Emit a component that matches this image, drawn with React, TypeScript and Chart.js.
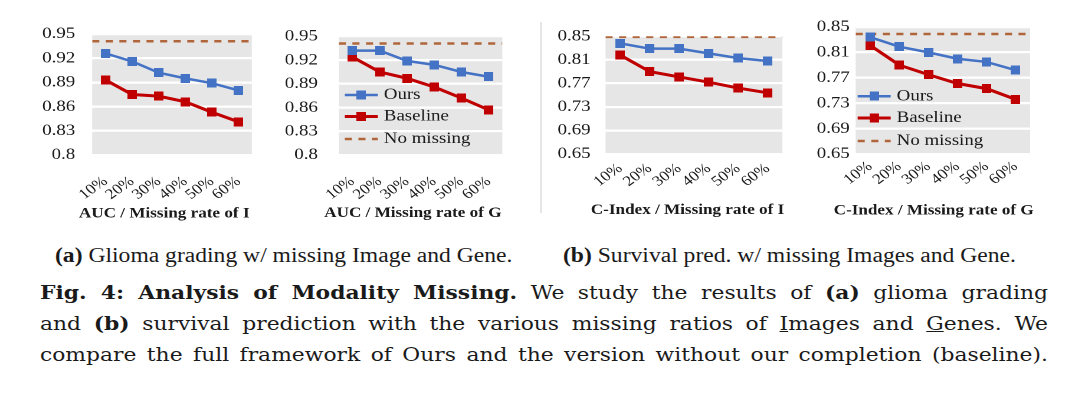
import React, { useEffect, useRef } from 'react';
import { Chart, registerables } from 'chart.js';

Chart.register(...registerables);

// ---------- data ----------
const categories = ['10%', '20%', '30%', '40%', '50%', '60%'];
const legendLabels = ['Ours', 'Baseline', 'No missing'];

const aucTicks = [0.8, 0.83, 0.86, 0.89, 0.92, 0.95];
const aucTickLabels = ['0.8', '0.83', '0.86', '0.89', '0.92', '0.95'];
const cTicks = [0.65, 0.69, 0.73, 0.77, 0.81, 0.85];
const cTickLabels = ['0.65', '0.69', '0.73', '0.77', '0.81', '0.85'];

const oursAucI = [0.926, 0.916, 0.902, 0.895, 0.889, 0.88];
const baseAucI = [0.893, 0.875, 0.873, 0.866, 0.853, 0.841];
const noMissAucI = 0.941;

const oursAucG = [0.932, 0.932, 0.919, 0.914, 0.905, 0.899];
const baseAucG = [0.924, 0.905, 0.897, 0.886, 0.872, 0.857];
const noMissAucG = 0.941;

const oursCI = [0.838, 0.829, 0.829, 0.821, 0.813, 0.808];
const baseCI = [0.818, 0.79, 0.781, 0.772, 0.762, 0.754];
const noMissCI = 0.849;

const oursCG = [0.834, 0.819, 0.81, 0.8, 0.795, 0.782];
const baseCG = [0.821, 0.79, 0.775, 0.761, 0.753, 0.736];
const noMissCG = 0.839;

// ---------- style / layout ----------
const S = 1.18; // horizontal stretch of the whole figure
const FONT = '"Liberation Serif", "Times New Roman", serif';
const CAP_FONT = '"DejaVu Serif", serif';
const BLUE = '#4472C4';
const RED = '#C00000';
const BROWN = '#B0663A';
const PLOT_BG = '#E6E6E6';
const TEXT = '#1a1a1a';

type Panel = {
  ours: number[];
  base: number[];
  noMiss: number;
  ticks: number[];
  tickLabels: string[];
  title: string;
  plotL: number; plotR: number; plotT: number; plotB: number;
  gap: number; xPad: number; titleX: number; titleY: number;
  legend?: { x: number; textX: number; rows: number[] };
};

const panels: Panel[] = [
  { ours: oursAucI, base: baseAucI, noMiss: noMissAucI, ticks: aucTicks, tickLabels: aucTickLabels,
    title: 'AUC / Missing rate of I',
    plotL: 92, plotR: 268, plotT: 26.3, plotB: 156, gap: 17, xPad: 18, titleX: 164, titleY: 214 },
  { ours: oursAucG, base: baseAucG, noMiss: noMissAucG, ticks: aucTicks, tickLabels: aucTickLabels,
    title: 'AUC / Missing rate of G',
    plotL: 339, plotR: 519, plotT: 25, plotB: 155, gap: 21, xPad: 18, titleX: 413, titleY: 213,
    legend: { x: 345, textX: 384, rows: [95, 116.5, 139] } },
  { ours: oursCI, base: baseCI, noMiss: noMissCI, ticks: cTicks, tickLabels: cTickLabels,
    title: 'C-Index / Missing rate of I',
    plotL: 605, plotR: 786, plotT: 30, plotB: 154.5, gap: 15, xPad: 6, titleX: 687, titleY: 210 },
  { ours: oursCG, base: baseCG, noMiss: noMissCG, ticks: cTicks, tickLabels: cTickLabels,
    title: 'C-Index / Missing rate of G',
    plotL: 856, plotR: 1034, plotT: 26.5, plotB: 154, gap: 6, xPad: 4, titleX: 934, titleY: 210,
    legend: { x: 858, textX: 897, rows: [95.7, 117.5, 140.5] } },
];

function makeMarker(color: string): HTMLCanvasElement {
  const c = document.createElement('canvas');
  c.width = 8;
  c.height = 9;
  const g = c.getContext('2d')!;
  g.fillStyle = color;
  g.fillRect(0, 0, 8, 9);
  return c;
}

const Y_W = 58;   // final px reserved left of plot
const R_PAD = 6;  // final px right of plot
const T_PAD = 16; // px above plot
const X_H = 74;   // px below plot

function PanelChart({ p }: { p: Panel }) {
  const ref = useRef<HTMLCanvasElement>(null);
  const left0 = p.plotL - Y_W;
  const right0 = p.plotR + R_PAD;
  const top0 = p.plotT - T_PAD;
  const bottom0 = p.plotB + X_H;
  const cw = (right0 - left0) / S;
  const ch = bottom0 - top0;

  useEffect(() => {
    const blueMk = makeMarker(BLUE);
    const redMk = makeMarker(RED);

    const bgPlugin = {
      id: 'plotBg',
      beforeDraw(chart: any) {
        const { ctx, chartArea: a } = chart;
        ctx.save();
        ctx.fillStyle = PLOT_BG;
        ctx.fillRect(a.left, a.top, a.right - a.left, a.bottom - a.top);
        ctx.restore();
      },
    };

    const titlePlugin = {
      id: 'axisTitle',
      afterDraw(chart: any) {
        const { ctx } = chart;
        ctx.save();
        ctx.font = `bold 14.5px ${FONT}`;
        ctx.fillStyle = TEXT;
        ctx.textAlign = 'center';
        ctx.textBaseline = 'middle';
        ctx.fillText(p.title, (p.titleX - left0) / S, p.titleY - top0);
        ctx.restore();
      },
    };

    const legendPlugin = {
      id: 'innerLegend',
      afterDraw(chart: any) {
        if (!p.legend) return;
        const { ctx } = chart;
        const lg = p.legend;
        const x1 = (lg.x - left0) / S;
        const len = 33 / S;
        const tx = (lg.textX - left0) / S;
        chart.data.datasets.forEach((ds: any, i: number) => {
          const y = lg.rows[i] - top0;
          ctx.save();
          ctx.strokeStyle = ds.borderColor;
          ctx.lineWidth = ds.borderWidth;
          if (ds.borderDash) ctx.setLineDash(ds.borderDash);
          ctx.beginPath();
          ctx.moveTo(x1, y);
          ctx.lineTo(x1 + len, y);
          ctx.stroke();
          if (ds.pointStyle && typeof ds.pointStyle === 'object') {
            const m = ds.pointStyle;
            ctx.drawImage(m, x1 + len / 2 - m.width / 2, y - m.height / 2, m.width, m.height);
          }
          ctx.fillStyle = TEXT;
          ctx.font = `16px ${FONT}`;
          ctx.textAlign = 'left';
          ctx.textBaseline = 'middle';
          ctx.fillText(ds.label, tx, y);
          ctx.restore();
        });
      },
    };

    const chart = new Chart(ref.current!, {
      type: 'line',
      data: {
        labels: categories,
        datasets: [
          { label: legendLabels[0], data: p.ours, borderColor: BLUE, backgroundColor: BLUE,
            borderWidth: 2.5, pointStyle: blueMk as any, pointRadius: 5, xAxisID: 'x', yAxisID: 'y' },
          { label: legendLabels[1], data: p.base, borderColor: RED, backgroundColor: RED,
            borderWidth: 3, pointStyle: redMk as any, pointRadius: 5, xAxisID: 'x', yAxisID: 'y' },
          { label: legendLabels[2], data: [{ x: 0, y: p.noMiss }, { x: 1, y: p.noMiss }] as any,
            borderColor: BROWN, backgroundColor: BROWN, borderWidth: 2.5, borderDash: [6, 5.5],
            pointRadius: 0, xAxisID: 'x2', yAxisID: 'y' },
        ],
      },
      options: {
        responsive: false,
        animation: false,
        devicePixelRatio: 2,
        events: [],
        layout: { padding: { top: T_PAD, right: R_PAD / S, left: 0, bottom: 0 } },
        plugins: { legend: { display: false }, tooltip: { enabled: false }, title: { display: false } },
        scales: {
          x: {
            type: 'category',
            offset: true,
            grid: { display: false, drawTicks: false },
            border: { display: false },
            ticks: { autoSkip: false, minRotation: 40, maxRotation: 40, padding: p.xPad,
              color: TEXT, font: { family: FONT, size: 14.5 } },
            afterFit: (s: any) => { s.height = X_H; },
          },
          x2: { type: 'linear', display: false, min: 0, max: 1 },
          y: {
            type: 'linear',
            min: p.ticks[0],
            max: p.ticks[p.ticks.length - 1],
            grid: { color: '#ffffff', lineWidth: 2.3, drawTicks: false },
            border: { display: false },
            ticks: {
              padding: p.gap / S,
              color: TEXT,
              font: { family: FONT, size: 16 },
              callback: (_v: any, i: number) => p.tickLabels[i],
            },
            afterBuildTicks: (s: any) => { s.ticks = p.ticks.map((v) => ({ value: v })); },
            afterFit: (s: any) => { s.width = Y_W / S; },
          },
        } as any,
      },
      plugins: [bgPlugin, titlePlugin, legendPlugin],
    } as any);
    return () => chart.destroy();
  }, []);

  return (
    <canvas
      ref={ref}
      width={cw}
      height={ch}
      style={{ position: 'absolute', left: left0 / S, top: top0 }}
    />
  );
}

const lineStyle: React.CSSProperties = { textAlign: 'justify', textAlignLast: 'justify', whiteSpace: 'nowrap' };

export default function App() {
  return (
    <div
      style={{
        position: 'absolute', left: 0, top: 0, width: 1080 / S, height: 396,
        transform: `scaleX(${S})`, transformOrigin: '0 0', background: '#fff',
        fontFamily: FONT, color: TEXT, overflow: 'hidden',
      }}
    >
      {panels.map((p, i) => <PanelChart key={i} p={p} />)}
      <div style={{ position: 'absolute', left: 540 / S, top: 22, width: 1.5 / S, height: 191, background: '#d4d4d4' }} />
      <div style={{ position: 'absolute', left: 55 / S, top: 243, fontSize: 20, lineHeight: '24px', whiteSpace: 'nowrap' }}>
        <b>(a)</b> Glioma grading w/ missing Image and Gene.
      </div>
      <div style={{ position: 'absolute', left: 563 / S, top: 243, fontSize: 20, lineHeight: '24px', whiteSpace: 'nowrap' }}>
        <b>(b)</b> Survival pred. w/ missing Images and Gene.
      </div>
      <div style={{ position: 'absolute', left: 40 / S, top: 277, width: 1008 / S, fontFamily: CAP_FONT, fontSize: 18.5, lineHeight: '31px' }}>
        <div style={lineStyle}>
          <b>Fig. 4: Analysis of Modality Missing.</b> We study the results of <b>(a)</b> glioma grading
        </div>
        <div style={lineStyle}>
          and <b>(b)</b> survival prediction with the various missing ratios of <u>I</u>mages and <u>G</u>enes. We
        </div>
        <div style={lineStyle}>
          compare the full framework of Ours and the version without our completion (baseline).
        </div>
      </div>
    </div>
  );
}
